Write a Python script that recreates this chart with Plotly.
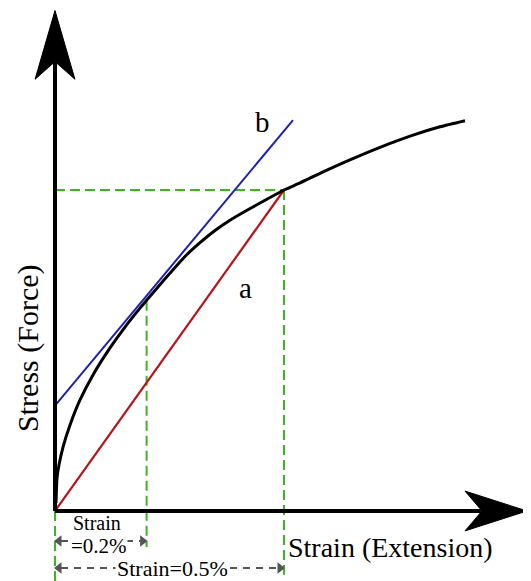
import plotly.graph_objects as go

# ---- data (strain in %, stress in arbitrary units; 100 = 0.5 % offset point) ----
curve_strain = [0.0022, 0.0044, 0.0087, 0.0175, 0.0328, 0.0546, 0.0830, 0.1201, 0.1528,
                0.1856, 0.2183, 0.2511, 0.2838, 0.3166, 0.3493, 0.3821, 0.4192, 0.4585,
                0.5000, 0.5349, 0.5786, 0.6376, 0.7096, 0.7817, 0.8406, 0.8952]
curve_stress = [2.5, 10.3, 14.3, 19.9, 26.8, 34.6, 42.4, 50.8, 57.3,
                63.2, 68.7, 74.1, 79.3, 83.6, 87.4, 90.6, 93.7, 96.8,
                100.0, 102.2, 105.2, 109.0, 113.3, 117.1, 119.7, 121.6]

tangent_b_strain = [0.0, 0.5197]
tangent_b_stress = [32.8, 121.8]

offset_a_strain = [0.0, 0.5]
offset_a_stress = [0.0, 100.0]

offset_strain_small = 0.2
offset_strain_large = 0.5
yield_stress = 100.0

# axis geometry (data units)
y_axis_strain = [0.0, 0.0]
y_axis_stress = [0.0, 140.0]
y_head_strain = [0.0, -0.0435, 0.0, 0.0435, 0.0]
y_head_stress = [155.9, 134.5, 140.0, 134.5, 155.9]

x_axis_strain = [0.0, 0.93]
x_axis_stress = [0.0, 0.0]
x_head_strain = [1.0306, 0.8952, 0.9323, 0.8952, 1.0306]
x_head_stress = [0.0, 6.2, 0.0, -6.2, 0.0]

x_range = [-0.10262, 1.03930]
y_range = [-21.81, 156.70]

GREEN = "#3cb521"
BLUE = "#1c22b0"
RED = "#b3151a"
GRAY = "#555555"
FONT = "Liberation Serif"

fig = go.Figure()

# green dashed guides
fig.add_trace(go.Scatter(x=[0, offset_strain_large], y=[yield_stress, yield_stress], mode="lines",
                         line=dict(color=GREEN, width=2, dash="10px,5px")))
fig.add_trace(go.Scatter(x=[offset_strain_large, offset_strain_large], y=[yield_stress, -19.9], mode="lines",
                         line=dict(color=GREEN, width=2, dash="10px,5px")))
fig.add_trace(go.Scatter(x=[offset_strain_small, offset_strain_small], y=[65.5, -11.2], mode="lines",
                         line=dict(color=GREEN, width=2, dash="10px,5px")))
fig.add_trace(go.Scatter(x=[0, 0], y=[0, y_range[0]], mode="lines",
                         line=dict(color=GREEN, width=2, dash="10px,5px")))

# lines a and b
fig.add_trace(go.Scatter(x=offset_a_strain, y=offset_a_stress, mode="lines",
                         line=dict(color=RED, width=2.2)))
fig.add_trace(go.Scatter(x=tangent_b_strain, y=tangent_b_stress, mode="lines",
                         line=dict(color=BLUE, width=2)))

# stress-strain curve
fig.add_trace(go.Scatter(x=curve_strain, y=curve_stress, mode="lines",
                         line=dict(color="black", width=3, shape="spline", smoothing=0.6)))

# axes with arrowheads
fig.add_trace(go.Scatter(x=y_axis_strain, y=y_axis_stress, mode="lines",
                         line=dict(color="black", width=4)))
fig.add_trace(go.Scatter(x=y_head_strain, y=y_head_stress, mode="lines", fill="toself",
                         fillcolor="black", line=dict(color="black", width=1)))
fig.add_trace(go.Scatter(x=x_axis_strain, y=x_axis_stress, mode="lines",
                         line=dict(color="black", width=4)))
fig.add_trace(go.Scatter(x=x_head_strain, y=x_head_stress, mode="lines", fill="toself",
                         fillcolor="black", line=dict(color="black", width=1)))

# gray dimension arrows
px = 1 / 458.0
for y_row, x_end in [(-9.35, offset_strain_small), (-17.76, offset_strain_large)]:
    fig.add_trace(go.Scatter(x=[0 + 6 * px, x_end - 6 * px], y=[y_row, y_row], mode="lines",
                             line=dict(color=GRAY, width=2, dash="7px,6px")))
    fig.add_trace(go.Scatter(x=[0 + 4 * px, x_end - 4 * px], y=[y_row, y_row], mode="markers",
                             marker=dict(symbol=["triangle-left", "triangle-right"], size=10,
                                         color=GRAY)))

ann = []
ann.append(dict(x=-0.059, y=50.8, text="Stress (Force)", textangle=-90, showarrow=False,
                font=dict(family=FONT, size=30, color="black")))
ann.append(dict(x=0.7336, y=-11.5, text="Strain (Extension)", showarrow=False,
                font=dict(family=FONT, size=28, color="black")))
ann.append(dict(x=0.452, y=121.2, text="b", showarrow=False,
                font=dict(family=FONT, size=29, color="black")))
ann.append(dict(x=0.415, y=69.5, text="a", showarrow=False,
                font=dict(family=FONT, size=29, color="black")))
ann.append(dict(x=0.092, y=-3.6, text="Strain", showarrow=False, borderpad=0,
                font=dict(family=FONT, size=20, color="black")))
ann.append(dict(x=0.096, y=-10.8, text="=0.2%", showarrow=False, bgcolor="white", borderpad=0,
                font=dict(family=FONT, size=21, color="black")))
ann.append(dict(x=0.2555, y=-17.8, text="Strain=0.5%", showarrow=False, bgcolor="white", borderpad=1,
                font=dict(family=FONT, size=22, color="black")))

fig.update_layout(
    width=523, height=573,
    margin=dict(l=0, r=0, t=0, b=0),
    paper_bgcolor="white", plot_bgcolor="white",
    showlegend=False,
    xaxis=dict(range=x_range, visible=False, fixedrange=True),
    yaxis=dict(range=y_range, visible=False, fixedrange=True),
    annotations=ann,
    hovermode=False,
)

fig.write_html("out.html")
